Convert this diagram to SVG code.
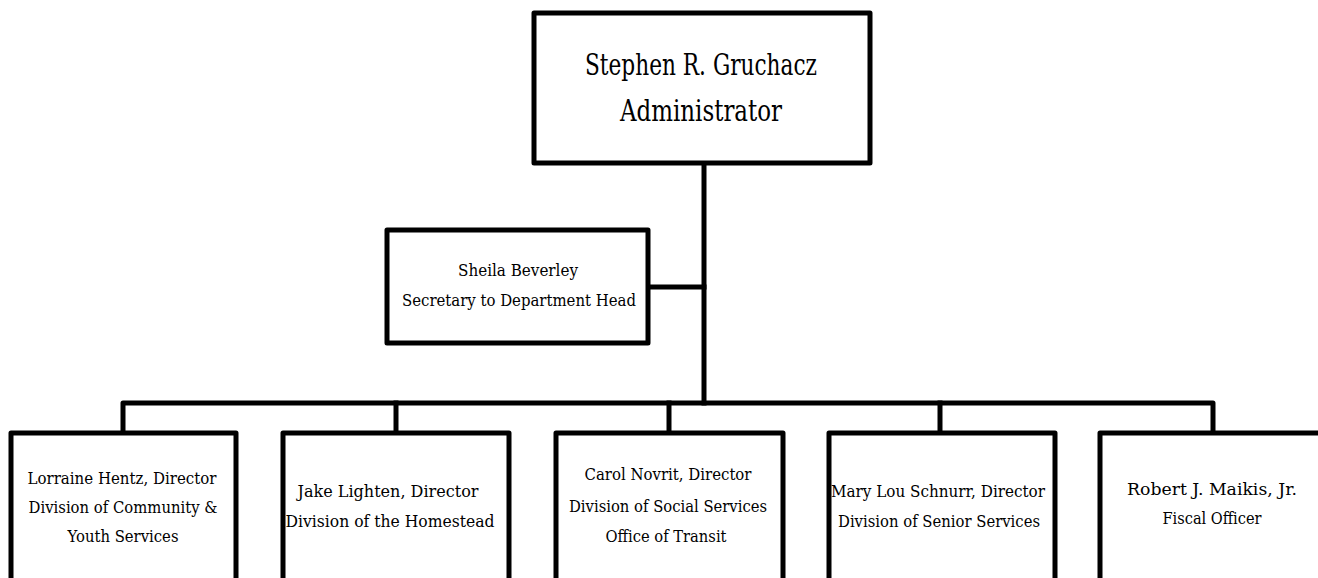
<svg xmlns="http://www.w3.org/2000/svg" width="1318" height="578" viewBox="0 0 1318 578">
<style>
.box{fill:#fff;stroke:#000;stroke-width:5;stroke-linejoin:round}
.ln{fill:none;stroke:#000;stroke-width:5;stroke-linejoin:round;stroke-linecap:square}
text{font-family:"DejaVu Serif","Liberation Serif",serif;fill:#000;text-anchor:middle}
.big{font-size:30px}
.sm{font-size:16px}
</style>
<rect width="1318" height="578" fill="#fff"/>
<g id="connectors">
<path class="ln" d="M704 163 V403"/>
<path class="ln" d="M648 287 H704"/>
<path class="ln" d="M123 433 V403 H1213 V433"/>
<path class="ln" d="M396 403 V433"/>
<path class="ln" d="M669 403 V433"/>
<path class="ln" d="M940 403 V433"/>
</g>
<g id="admin">
<rect class="box" x="534" y="13" width="336" height="150"/>
<text class="big" x="701" y="75" textLength="232" lengthAdjust="spacingAndGlyphs">Stephen R. Gruchacz</text>
<text class="big" x="701" y="121" textLength="162" lengthAdjust="spacingAndGlyphs">Administrator</text>
</g>
<g id="secretary">
<rect class="box" x="387" y="230" width="261" height="113"/>
<text class="sm" x="518" y="276" textLength="120" lengthAdjust="spacingAndGlyphs">Sheila Beverley</text>
<text class="sm" x="519" y="306" textLength="234" lengthAdjust="spacingAndGlyphs">Secretary to Department Head</text>
</g>
<g id="hentz">
<rect class="box" x="11" y="433" width="225" height="160"/>
<text class="sm" x="122" y="484" textLength="189" lengthAdjust="spacingAndGlyphs">Lorraine Hentz, Director</text>
<text class="sm" x="123" y="513" textLength="189" lengthAdjust="spacingAndGlyphs">Division of Community &amp;</text>
<text class="sm" x="123" y="542" textLength="111" lengthAdjust="spacingAndGlyphs">Youth Services</text>
</g>
<g id="lighten">
<rect class="box" x="283" y="433" width="226" height="160"/>
<text class="sm" x="388" y="497" textLength="181" lengthAdjust="spacingAndGlyphs">Jake Lighten, Director</text>
<text class="sm" x="390" y="527" textLength="209" lengthAdjust="spacingAndGlyphs">Division of the Homestead</text>
</g>
<g id="novrit">
<rect class="box" x="556" y="433" width="227" height="160"/>
<text class="sm" x="668" y="480" textLength="167" lengthAdjust="spacingAndGlyphs">Carol Novrit, Director</text>
<text class="sm" x="668" y="512" textLength="198" lengthAdjust="spacingAndGlyphs">Division of Social Services</text>
<text class="sm" x="666" y="542" textLength="121" lengthAdjust="spacingAndGlyphs">Office of Transit</text>
</g>
<g id="schnurr">
<rect class="box" x="829" y="433" width="226" height="160"/>
<text class="sm" x="938" y="497" textLength="214" lengthAdjust="spacingAndGlyphs">Mary Lou Schnurr, Director</text>
<text class="sm" x="939" y="527" textLength="202" lengthAdjust="spacingAndGlyphs">Division of Senior Services</text>
</g>
<g id="maikis">
<rect class="box" x="1100" y="433" width="226" height="160"/>
<text class="sm" x="1212" y="495" textLength="170" lengthAdjust="spacingAndGlyphs">Robert J. Maikis, Jr.</text>
<text class="sm" x="1212" y="524" textLength="99" lengthAdjust="spacingAndGlyphs">Fiscal Officer</text>
</g>
</svg>
